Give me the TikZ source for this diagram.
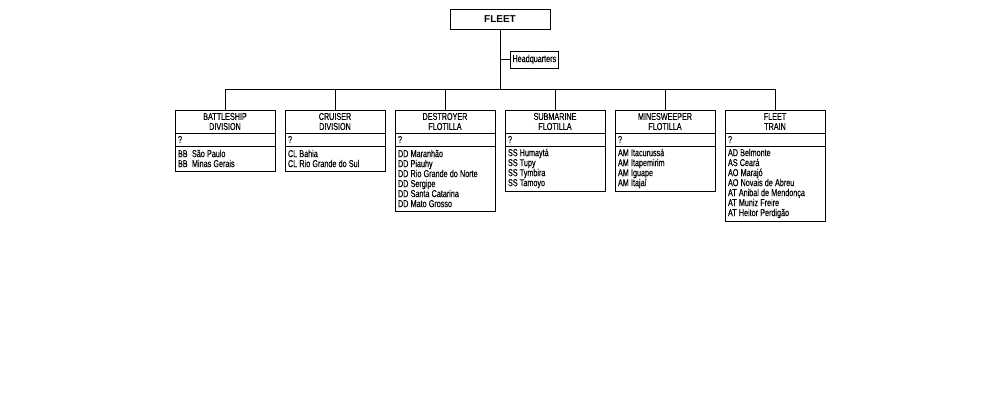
\documentclass[tikz,border=0pt]{standalone}
\usepackage{fontspec}
\setmainfont[FakeStretch=0.72,FakeBold=0.4]{Liberation Sans}
\newfontfamily\fleetfont{Liberation Sans}
\usetikzlibrary{positioning}

\begin{document}
\begin{tikzpicture}[x=1pt,y=-1pt,
	chartbox/.style={draw,line width=1pt,outer sep=0pt,inner sep=0pt,minimum width=100pt,font=\fontsize{10}{10}\selectfont},
	titlerow/.style={chartbox,minimum height=23pt,align=center},
	qrow/.style={chartbox,minimum height=13pt,text width=94pt,align=left},
	listrow/.style={chartbox,text width=94pt,align=left},
	link/.style={line width=1pt}]
	\useasboundingbox (0,0) rectangle (1000,400);

	\node[chartbox,minimum height=20pt,font=\fleetfont\bfseries\fontsize{10}{12}\selectfont] (fleet) at (500,19) {FLEET};
	\node[chartbox,minimum width=0pt,minimum height=17pt,inner xsep=2.5pt,anchor=west] (hq) at (510,59.5) {Headquarters};
	\coordinate (bus) at (500,89);

	\draw[link] (fleet.south) -- (bus);
	\draw[link] (hq.west) -- (hq.west -| bus);

	% divisions
	\foreach \n/\cx/\ttl/\items/\h in {
		bb/225/{BATTLESHIP\\DIVISION}/{BB\ \ São Paulo\\BB\ \ Minas Gerais}/25,
		cl/335/{CRUISER\\DIVISION}/{CL Bahia\\CL Rio Grande do Sul}/25,
		dd/445/{DESTROYER\\FLOTILLA}/{DD Maranhão\\DD Piauhy\\DD Rio Grande do Norte\\DD Sergipe\\DD Santa Catarina\\DD Mato Grosso}/65,
		ss/555/{SUBMARINE\\FLOTILLA}/{SS Humaytá\\SS Tupy\\SS Tymbira\\SS Tamoyo}/45,
		am/665/{MINESWEEPER\\FLOTILLA}/{AM Itacurussá\\AM Itapemirim\\AM Iguape\\AM Itajaí}/45,
		tr/775/{FLEET\\TRAIN}/{AD Belmonte\\AS Ceará\\AO Marajó\\AO Novais de Abreu\\AT Anibal de Mendonça\\AT Muniz Freire\\AT Heitor Perdigão}/75}
	{
	\node[titlerow,anchor=north] (\n-t) at (\cx,110) {\ttl};
	\node[qrow,below=0pt of \n-t] (\n-q) {?};
	\node[listrow,minimum height=\h pt,below=0pt of \n-q] (\n-l) {\spaceskip=2.2pt\relax\items};
	\draw[link] (\n-t.north) -- (\n-t.north |- bus);
	}

	\draw[link] (bb-t.north |- bus) -- (tr-t.north |- bus);
\end{tikzpicture}
\end{document}
